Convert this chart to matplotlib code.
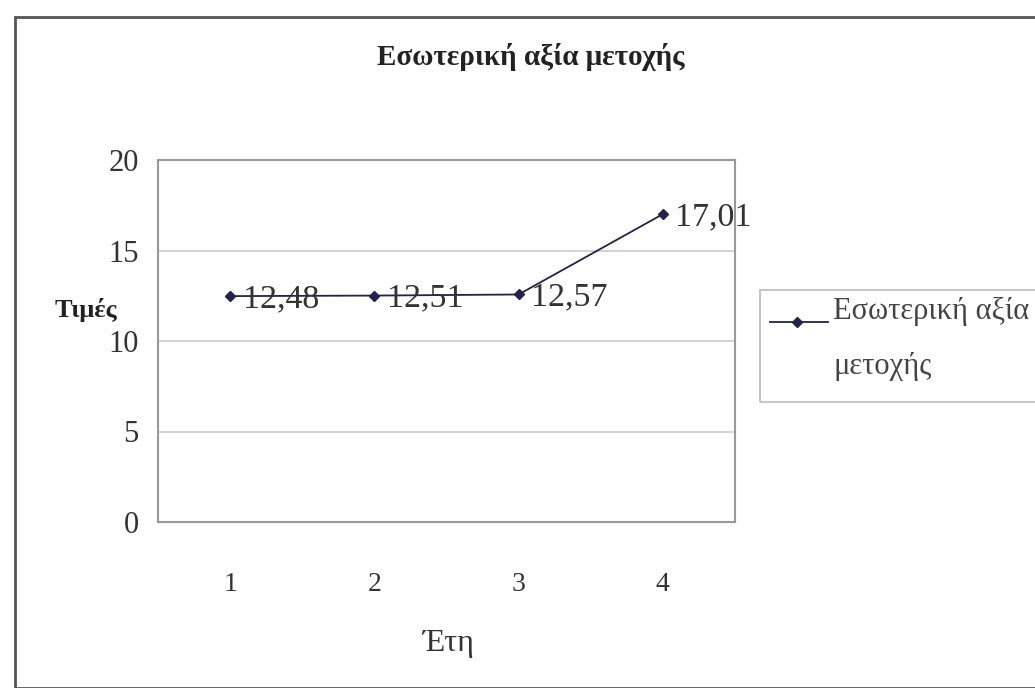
import matplotlib
matplotlib.use("Agg")
import matplotlib.pyplot as plt
from matplotlib.patches import Rectangle
from matplotlib.lines import Line2D

years = [1, 2, 3, 4]
values = [12.48, 12.51, 12.57, 17.01]
value_labels = ["12,48", "12,51", "12,57", "17,01"]
y_ticks = [0, 5, 10, 15, 20]

plt.rcParams['font.family'] = ['Liberation Serif', 'DejaVu Serif']

W, H = 1035, 688
fig = plt.figure(figsize=(W / 100, H / 100), dpi=100)
fig.patch.set_facecolor("white")

# chart-area border
fig.add_artist(Rectangle((15 / W, 0 / H), 1.2, (H - 17) / H, transform=fig.transFigure,
                         fill=False, edgecolor="#555555", linewidth=2.0))

ax = fig.add_axes([158 / W, 1 - 522 / H, (735 - 158) / W, (522 - 160) / H])
line_color = "#22224a"
ax.plot(years, values, color=line_color, linewidth=1.3, marker="D", markersize=5,
        markerfacecolor=line_color, markeredgecolor=line_color, zorder=3)
for x, v, lab in zip(years, values, value_labels):
    ax.annotate(lab, (x, v), xytext=(9, -2), textcoords="offset points",
                ha="left", va="center", fontsize=24.5, color="#333333")

ax.set_xlim(0.5, 4.5)
ax.set_ylim(0, 20)
ax.set_yticks(y_ticks)
ax.set_xticks(years)
ax.tick_params(axis="both", length=0, colors="#333333")
ax.tick_params(axis="x", pad=36, labelsize=20)
ax.tick_params(axis="y", pad=14, labelsize=22)
ax.yaxis.grid(True, color="#cccccc", linewidth=1.2)
ax.set_axisbelow(True)
for s in ax.spines.values():
    s.set_color("#999999")
    s.set_linewidth(1.5)

fig.text(531 / W, 1 - 57 / H, "Εσωτερική αξία μετοχής", ha="center", va="center",
         fontsize=21, fontweight="bold", color="#222222")
fig.text(86 / W, 1 - 310 / H, "Τιμές", ha="center", va="center",
         fontsize=19, fontweight="bold", color="#222222")
fig.text(448 / W, 1 - 643 / H, "Έτη", ha="center", va="center",
         fontsize=23, color="#333333")

# legend box
fig.add_artist(Rectangle((760 / W, 1 - 402 / H), 300 / W, 112 / H, transform=fig.transFigure,
                         fill=False, edgecolor="#bbbbbb", linewidth=1.2))
fig.add_artist(Line2D([770 / W, 828 / W], [1 - 322 / H, 1 - 322 / H], transform=fig.transFigure,
                      color=line_color, linewidth=1.3))
fig.add_artist(Line2D([797 / W], [1 - 322 / H], transform=fig.transFigure,
                      color=line_color, marker="D", markersize=5, linestyle="none"))
fig.text(833 / W, 1 - 312 / H, "Εσωτερική αξία", ha="left", va="center",
         fontsize=22, color="#444444")
fig.text(833 / W, 1 - 367 / H, "μετοχής", ha="left", va="center",
         fontsize=22, color="#444444")

fig.savefig("out.png", dpi=100, facecolor="white")
